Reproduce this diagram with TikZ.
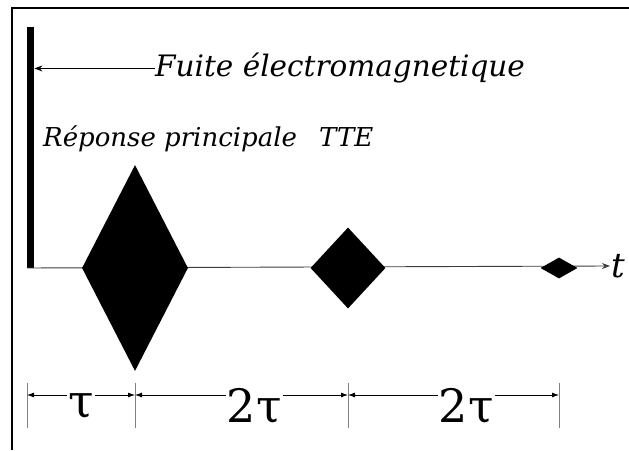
\documentclass[tikz,border=0pt]{standalone}
\usepackage{fontspec}
\setmainfont{DejaVu Serif}
\usetikzlibrary{arrows.meta,positioning,shapes.geometric}
\definecolor{AxisGray}{RGB}{60,60,60}
\tikzset{
  pulse/.style={diamond,fill=black,inner sep=0pt},
  legende/.style={font=\itshape\fontsize{26}{30}\selectfont,inner sep=0pt},
  dimline/.style={{Latex[length=7pt,width=5pt]}-{Latex[length=7pt,width=5pt]},line width=0.8pt},
  dimtext/.style={fill=white,inner sep=1pt,yshift=-11pt,font=\fontsize{46}{50}\selectfont}
}
\begin{document}
\begin{tikzpicture}[x=1pt,y=1pt,>={Stealth[length=8pt,width=6pt]}]
\useasboundingbox (0,0) rectangle (629,450);
% cadre
\draw[line width=2.5pt] (12,0) -- (12,442) -- (629,442);
% fuite + axe
\node[fill=black,inner sep=0pt,minimum width=7pt,minimum height=241pt,anchor=south west] (leak) at (27,182) {};
\node[anchor=west,inner sep=1pt,font=\itshape\fontsize{34}{36}\selectfont] (t) at (610,184) {t};
\draw[->,line width=0.9pt,AxisGray] (leak.south west) -- (t.west);
\node[pulse,minimum width=106pt,minimum height=206pt] (main) at (135,182) {};
\node[pulse,minimum width=75pt,minimum height=81pt] (tte) at (348,182) {};
\node[pulse,minimum width=37pt,minimum height=21pt] (third) at (559,182) {};
% textes
\node[legende,font=\itshape\fontsize{29.5}{32}\selectfont,anchor=base west] (fuite) at (155,373) {Fuite électromagnetique};
\draw[->,line width=1pt] (fuite.west) -- (leak.east |- fuite.west);
\node[legende,anchor=base west] (rep) at (43,303) {Réponse principale};
\node[legende,anchor=base west] (ttelab) at (319,303) {TTE};
% cotes
\foreach \x/\n in {27/d0,135/d1,348/d2,559/d3}{
  \coordinate (\n) at (\x,55);
  \draw[line width=0.8pt,gray] (\x,22) -- (\x,67);
}
\draw[dimline] (d0) -- node[dimtext,pos=.5] (tau1) {τ} (d1);
\draw[dimline] (d1) -- node[dimtext,pos=.56] (tau2) {2τ} (d2);
\draw[dimline] (d2) -- node[dimtext,pos=.56] (tau3) {2τ} (d3);
\end{tikzpicture}
\end{document}
